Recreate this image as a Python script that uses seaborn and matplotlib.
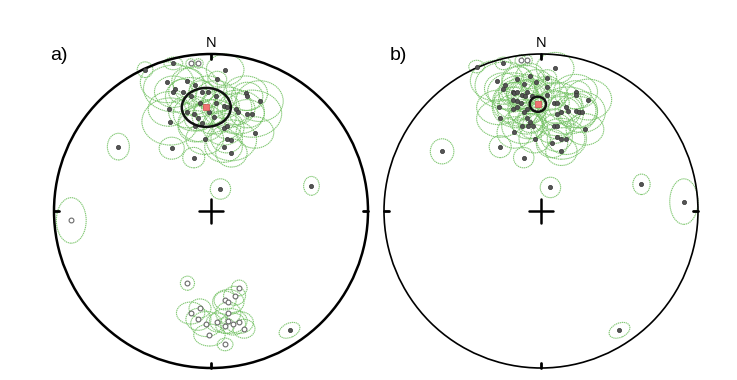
import numpy as np
import pandas as pd
import matplotlib
matplotlib.use("Agg")
import matplotlib.pyplot as plt
from matplotlib.patches import Ellipse, Circle
import seaborn as sns

sns.set_theme(style="white")
plt.rcParams['font.family'] = ['Liberation Sans', 'DejaVu Sans']
plt.rcParams['text.color'] = 'black'

# ---------------- data (projected unit-disk coords: east, north) ----------------
# Panel a - filled (lower hemisphere) directions
a_fx = [-0.42, -0.24, -0.28, -0.23, -0.24, -0.15, -0.10, -0.18, -0.13, -0.06, -0.02, -0.07,
        -0.11, -0.08, -0.06, -0.10, -0.27, -0.26, -0.04, -0.25, -0.11, 0.09, 0.04, 0.22,
        0.23, 0.31, 0.03, 0.08, 0.10, 0.03, 0.16, 0.17, 0.23, 0.26, 0.08, 0.10,
        0.28, 0.10, 0.13, 0.08, 0.13, 0.06, -0.59, 0.64, 0.50, -0.01, 0.02, -0.15]
a_fy = [0.90, 0.94, 0.82, 0.78, 0.76, 0.83, 0.80, 0.76, 0.73, 0.76, 0.76, 0.69,
        0.62, 0.59, 0.56, 0.54, 0.65, 0.57, 0.46, 0.40, 0.34, 0.90, 0.84, 0.75,
        0.73, 0.70, 0.73, 0.67, 0.66, 0.69, 0.65, 0.63, 0.62, 0.62, 0.53, 0.54,
        0.50, 0.46, 0.45, 0.41, 0.37, 0.14, 0.41, 0.16, -0.76, 0.63, 0.60, 0.63]
a_frx = [0.05, 0.06, 0.17, 0.20, 0.12, 0.10, 0.14, 0.09, 0.16, 0.08, 0.12, 0.10,
         0.13, 0.09, 0.15, 0.11, 0.13, 0.18, 0.12, 0.08, 0.07, 0.12, 0.06, 0.14,
         0.10, 0.15, 0.13, 0.10, 0.16, 0.09, 0.12, 0.17, 0.11, 0.19, 0.13, 0.09,
         0.12, 0.10, 0.16, 0.12, 0.10, 0.065, 0.07, 0.05, 0.07, 0.10, 0.14, 0.12]
a_fry = [0.05, 0.04, 0.13, 0.15, 0.10, 0.08, 0.12, 0.08, 0.12, 0.07, 0.10, 0.09,
         0.11, 0.08, 0.12, 0.10, 0.11, 0.15, 0.10, 0.07, 0.065, 0.10, 0.05, 0.11,
         0.09, 0.13, 0.10, 0.08, 0.13, 0.07, 0.10, 0.14, 0.09, 0.15, 0.11, 0.08,
         0.10, 0.09, 0.13, 0.10, 0.09, 0.065, 0.085, 0.06, 0.045, 0.08, 0.11, 0.10]
a_fang = [0] * 44 + [25, 0, 0, 0]

# Panel a - open (upper hemisphere) directions
a_ox = [-0.13, -0.08, -0.89, -0.15, 0.18, 0.15, 0.09, 0.11, -0.13, -0.07, 0.11, -0.08,
        -0.03, 0.04, 0.11, 0.14, 0.18, 0.09, 0.21, -0.01, 0.09]
a_oy = [0.94, 0.94, -0.06, -0.46, -0.49, -0.54, -0.57, -0.58, -0.65, -0.62, -0.65, -0.69,
        -0.72, -0.71, -0.70, -0.72, -0.71, -0.73, -0.75, -0.79, -0.85]
a_orx = [0.03, 0.03, 0.095, 0.045, 0.05, 0.07, 0.07, 0.10, 0.09, 0.07, 0.08, 0.08,
         0.10, 0.07, 0.12, 0.08, 0.09, 0.06, 0.07, 0.10, 0.05]
a_ory = [0.03, 0.03, 0.145, 0.045, 0.05, 0.06, 0.06, 0.08, 0.07, 0.06, 0.07, 0.07,
         0.08, 0.06, 0.08, 0.07, 0.07, 0.05, 0.06, 0.07, 0.04]

# Panel a - mean direction and its confidence ellipse
a_mean = (-0.03, 0.66)
a_mean_ell = (0.156, 0.124)

# Panel b - filled directions
b_fx = [-0.41, -0.24, -0.28, -0.23, -0.24, -0.15, -0.11, -0.07, -0.03, -0.18, -0.17, -0.15,
        -0.12, -0.09, -0.18, -0.15, -0.10, -0.06, -0.13, -0.09, -0.27, -0.18, -0.15, -0.11,
        -0.09, -0.07, -0.12, -0.08, -0.05, -0.26, -0.17, -0.04, -0.26, -0.11, 0.09, 0.04,
        0.04, 0.22, 0.22, 0.30, 0.04, 0.08, 0.10, 0.13, 0.10, 0.16, 0.17, 0.22,
        0.24, 0.26, 0.08, 0.10, 0.28, 0.10, 0.13, 0.16, 0.07, 0.13, 0.06, -0.63,
        0.64, 0.91, 0.50]
b_fy = [0.92, 0.94, 0.83, 0.80, 0.78, 0.84, 0.81, 0.86, 0.82, 0.76, 0.75, 0.76,
        0.74, 0.76, 0.71, 0.70, 0.73, 0.73, 0.69, 0.65, 0.66, 0.65, 0.66, 0.63,
        0.59, 0.57, 0.54, 0.54, 0.54, 0.59, 0.50, 0.46, 0.41, 0.34, 0.91, 0.85,
        0.79, 0.76, 0.74, 0.71, 0.74, 0.69, 0.69, 0.63, 0.62, 0.66, 0.64, 0.64,
        0.63, 0.63, 0.54, 0.54, 0.52, 0.47, 0.46, 0.46, 0.43, 0.38, 0.15, 0.38,
        0.17, 0.06, -0.76]
b_frx = [0.05, 0.05, 0.17, 0.19, 0.12, 0.10, 0.14, 0.09, 0.10, 0.16, 0.08, 0.12,
         0.10, 0.13, 0.09, 0.15, 0.11, 0.13, 0.18, 0.12, 0.14, 0.10, 0.16, 0.09,
         0.12, 0.08, 0.13, 0.10, 0.09, 0.15, 0.11, 0.10, 0.07, 0.065, 0.12, 0.06,
         0.08, 0.14, 0.10, 0.15, 0.13, 0.10, 0.16, 0.12, 0.17, 0.11, 0.19, 0.13,
         0.12, 0.15, 0.13, 0.09, 0.12, 0.10, 0.16, 0.12, 0.10, 0.10, 0.065, 0.075,
         0.055, 0.09, 0.07]
b_fry = [0.04, 0.04, 0.13, 0.15, 0.10, 0.08, 0.12, 0.08, 0.08, 0.12, 0.07, 0.10,
         0.09, 0.11, 0.08, 0.12, 0.10, 0.11, 0.15, 0.10, 0.11, 0.09, 0.13, 0.08,
         0.10, 0.07, 0.11, 0.08, 0.08, 0.12, 0.10, 0.09, 0.07, 0.065, 0.10, 0.05,
         0.07, 0.11, 0.09, 0.13, 0.10, 0.08, 0.13, 0.10, 0.14, 0.09, 0.15, 0.11,
         0.10, 0.13, 0.11, 0.08, 0.10, 0.09, 0.13, 0.10, 0.09, 0.09, 0.065, 0.08,
         0.065, 0.145, 0.045]
b_fang = [0] * 62 + [25]

# Panel b - open directions
b_ox = [-0.13, -0.09]
b_oy = [0.96, 0.96]
b_orx = [0.035, 0.035]
b_ory = [0.035, 0.035]

# Panel b - mean direction and its confidence ellipse
b_mean = (-0.02, 0.68)
b_mean_ell = (0.052, 0.048)

panel_labels = ["a)", "b)"]
north_label = "N"

# ---------------- figure ----------------
W, H = 737, 380
fig = plt.figure(figsize=(W / 100, H / 100), dpi=100)

R_px = 157
centers = [(211, 211), (541, 211)]
axes = []
for cx, cy in centers:
    ax = fig.add_axes([(cx - R_px) / W, (H - cy - R_px) / H, 2 * R_px / W, 2 * R_px / H])
    ax.set_xlim(-1, 1)
    ax.set_ylim(-1, 1)
    ax.set_aspect('equal')
    ax.axis('off')
    axes.append(ax)

GREEN = '#74c264'


def draw_panel(ax, fx, fy, frx, fry, fang, ox, oy, orx, ory, mean, mean_ell, lw_circ):
    # confidence ellipses
    for x, y, rx, ry, an in zip(fx, fy, frx, fry, fang):
        ax.add_patch(Ellipse((x, y), 2 * rx, 2 * ry, angle=an, fill=False,
                             edgecolor=GREEN, lw=0.8, ls=(0, (1.2, 0.6)), alpha=0.9,
                             clip_on=False, zorder=2))
    for x, y, rx, ry in zip(ox, oy, orx, ory):
        ax.add_patch(Ellipse((x, y), 2 * rx, 2 * ry, fill=False,
                             edgecolor=GREEN, lw=0.8, ls=(0, (1.2, 0.6)), alpha=0.9,
                             clip_on=False, zorder=2))
    # primitive circle
    ax.add_patch(Circle((0, 0), 1, fill=False, edgecolor='black', lw=lw_circ,
                        clip_on=False, zorder=5))
    # cardinal ticks
    t = 0.035
    for (x0, y0, x1, y1) in [(0, 1, 0, 1 - t), (0, -1, 0, -1 + t),
                             (1, 0, 1 - t, 0), (-1, 0, -1 + t, 0)]:
        ax.plot([x0, x1], [y0, y1], color='black', lw=2.0, clip_on=False, zorder=5)
    # centre cross
    c = 0.078
    ax.plot([-c, c], [0, 0], color='black', lw=1.8, zorder=5)
    ax.plot([0, 0], [-c, c], color='black', lw=1.8, zorder=5)

    dff = pd.DataFrame({'x': fx, 'y': fy})
    sns.scatterplot(data=dff, x='x', y='y', ax=ax, s=9, color='#555555',
                    edgecolor='#333333', linewidth=0.5, zorder=6, legend=False,
                    clip_on=False)
    if len(ox):
        dfo = pd.DataFrame({'x': ox, 'y': oy})
        sns.scatterplot(data=dfo, x='x', y='y', ax=ax, s=12, facecolor='white',
                        edgecolor='#6a6a6a', linewidth=0.8, zorder=6, legend=False,
                        clip_on=False)
    # mean
    ax.add_patch(Ellipse(mean, 2 * mean_ell[0], 2 * mean_ell[1], fill=False,
                         edgecolor='#111111', lw=1.8, zorder=7))
    dfm = pd.DataFrame({'x': [mean[0]], 'y': [mean[1]]})
    sns.scatterplot(data=dfm, x='x', y='y', ax=ax, s=24, marker='s', color='#f07272',
                    edgecolor='#d05050', linewidth=0.5, zorder=8, legend=False)
    ax.set_xlim(-1, 1)
    ax.set_ylim(-1, 1)
    ax.set_xlabel('')
    ax.set_ylabel('')


draw_panel(axes[0], a_fx, a_fy, a_frx, a_fry, a_fang, a_ox, a_oy, a_orx, a_ory,
           a_mean, a_mean_ell, 1.8)
draw_panel(axes[1], b_fx, b_fy, b_frx, b_fry, b_fang, b_ox, b_oy, b_orx, b_ory,
           b_mean, b_mean_ell, 1.2)

# labels
fig.text(50 / W, 1 - 56 / H, panel_labels[0], ha='left', va='center', fontsize=14,
         color='black')
fig.text(390 / W, 1 - 56 / H, panel_labels[1], ha='left', va='center', fontsize=14,
         color='black')
for cx, _ in centers:
    fig.text(cx / W, 1 - 43 / H, north_label, ha='center', va='center', fontsize=10.5,
             color='black')

fig.savefig('out.png', dpi=100, facecolor='white')
